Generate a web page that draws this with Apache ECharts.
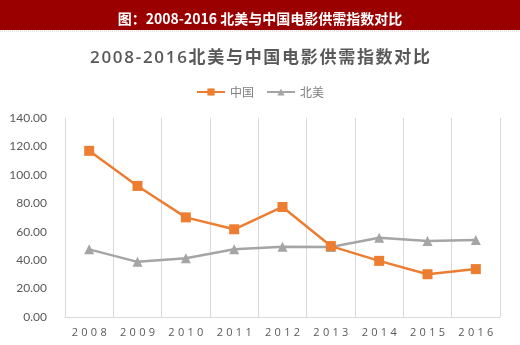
<!DOCTYPE html>
<html>
<head>
<meta charset="utf-8">
<style>
  html, body { margin: 0; padding: 0; background: #fff; }
  #chart { width: 520px; height: 345px; }
</style>
<script src="https://cdn.jsdelivr.net/npm/echarts@6/dist/echarts.min.js"></script>
</head>
<body>
<div id="chart"></div>
<script>
// Film supply/demand index, North America vs China, 2008-2016
const years = ['2008', '2009', '2010', '2011', '2012', '2013', '2014', '2015', '2016'];
const chinaIndex = [116.9, 92.2, 70.1, 61.7, 77.4, 49.9, 39.5, 30.1, 33.7];
const northAmericaIndex = [47.6, 38.8, 41.4, 47.6, 49.4, 49.2, 55.8, 53.4, 54.1];
const yTicks = { min: 0, max: 140, interval: 20 };

const seriesNames = ['中国', '北美'];
const headerText = '图：2008-2016 北美与中国电影供需指数对比';
const chartTitle = '2008-2016北美与中国电影供需指数对比';

// spread characters out a little, like a tracked label
const spaced = s => s.split('').join('\u200A');

const chart = echarts.init(document.getElementById('chart'));
chart.setOption({
  animation: false,
  backgroundColor: '#ffffff',
  graphic: [
    { type: 'rect', shape: { x: 0, y: 0, width: 520, height: 30 }, style: { fill: '#9b0000' }, z: 0 },
    { type: 'line', shape: { x1: 0, y1: 31, x2: 520, y2: 31 }, style: { stroke: '#d8c8cc', lineWidth: 1, lineDash: [1, 1] } }
  ],
  title: [
    {
      text: headerText,
      left: 'center',
      top: 7,
      textStyle: { color: '#ffffff', fontSize: 14, fontWeight: 'bold', fontFamily: '"Noto Sans CJK SC", "DejaVu Sans Mono", sans-serif' }
    },
    {
      text: spaced(chartTitle),
      left: 'center',
      top: 45,
      textStyle: { color: '#595959', fontSize: 17, fontWeight: 600, fontFamily: '"Open Sans", "Noto Sans CJK SC", sans-serif' }
    }
  ],
  legend: {
    top: 81,
    left: 'center',
    itemWidth: 28,
    itemHeight: 9,
    itemGap: 12,
    textStyle: { color: '#7f7f7f', fontSize: 12, fontFamily: '"Noto Sans CJK SC", sans-serif' },
    data: seriesNames
  },
  grid: { left: 65, right: 20, top: 118, bottom: 28, containLabel: false },
  xAxis: {
    type: 'category',
    data: years,
    boundaryGap: true,
    axisLine: { lineStyle: { color: '#d9d9d9', width: 1 } },
    axisTick: { show: false },
    splitLine: { show: true, lineStyle: { color: '#d9d9d9', width: 1 } },
    axisLabel: {
      color: '#595959',
      fontSize: 11,
      margin: 10,
      fontFamily: '"Open Sans", sans-serif',
      formatter: v => spaced(spaced(v))
    }
  },
  yAxis: {
    type: 'value',
    min: yTicks.min,
    max: yTicks.max,
    interval: yTicks.interval,
    axisLine: { show: false },
    axisTick: { show: false },
    splitLine: { show: false },
    axisLabel: {
      color: '#595959',
      fontSize: 12,
      margin: 18,
      fontFamily: 'Lato, "Open Sans", sans-serif',
      formatter: v => v.toFixed(2)
    }
  },
  series: [
    {
      name: seriesNames[0],
      type: 'line',
      data: chinaIndex,
      symbol: 'rect',
      symbolSize: 10,
      lineStyle: { color: '#ed7d31', width: 2.5 },
      itemStyle: { color: '#ed7d31' },
      z: 3
    },
    {
      name: seriesNames[1],
      type: 'line',
      data: northAmericaIndex,
      symbol: 'triangle',
      symbolSize: 10,
      lineStyle: { color: '#a5a5a5', width: 2.5 },
      itemStyle: { color: '#a5a5a5' },
      z: 2
    }
  ]
});
</script>
</body>
</html>
